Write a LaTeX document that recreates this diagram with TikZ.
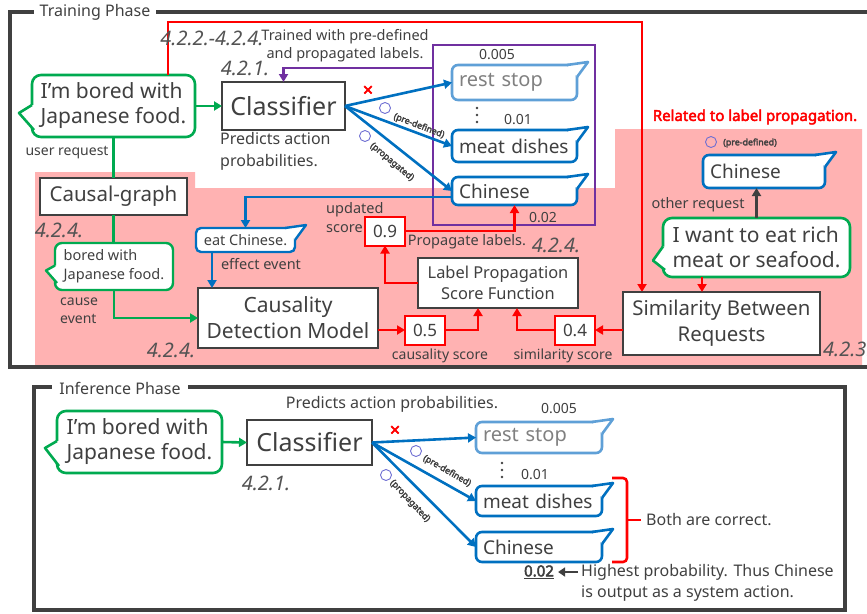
\documentclass[tikz,border=0pt]{standalone}
\usepackage{fontspec}
\setmainfont{Noto Sans}[AutoFakeBold=3]
\usetikzlibrary{arrows.meta}

\definecolor{txtgray}{RGB}{64,64,64}
\definecolor{reqgreen}{RGB}{0,170,80}
\definecolor{actblue}{RGB}{0,112,192}
\definecolor{paleblue}{RGB}{95,160,215}
\definecolor{lblpurple}{RGB}{112,48,160}
\definecolor{lpink}{RGB}{255,178,178}
\definecolor{okblue}{RGB}{110,110,210}

\newcommand{\fs}[2]{\fontsize{#1}{#2}\selectfont}

% speech tail, top right (action labels)
\newcommand{\tailne}[2]{%
  \filldraw[#2, fill=white, line join=round]
    ([xshift=-10pt]#1.north east) -- ++(21pt,3pt) -- ([yshift=-12pt]#1.north east);
}
% speech tail, left side (requests)
\newcommand{\tailw}[3]{%
  \fill[white] ([yshift=1pt]#1.west) -- ++(#3) -- ([xshift=2pt,yshift=7pt]#1.south west)
    -- ([xshift=2pt,yshift=1pt]#1.west) -- cycle;
  \draw[#2, line join=round] ([yshift=1pt]#1.west) -- ++(#3) -- ([xshift=2pt,yshift=7pt]#1.south west);
}

\tikzset{
  tip/.tip={Triangle[length=8pt,width=9pt]},
  frame/.style={draw=txtgray, line width=3.2pt},
  box/.style={draw=txtgray, line width=2.8pt, fill=white, text=txtgray, align=center, inner sep=0pt, outer sep=0pt},
  req/.style={draw=reqgreen, line width=2.6pt, fill=white, rounded corners=9pt, text=txtgray, align=left, inner sep=0pt, outer sep=0pt},
  act/.style={draw=actblue, line width=2.6pt, fill=white, rounded corners=6pt, text=txtgray, align=left, inner xsep=7pt, inner ysep=0pt, outer sep=0pt},
  score/.style={draw=red, line width=2pt, fill=white, text=txtgray, inner sep=0pt, outer sep=0pt, minimum width=40pt, minimum height=29pt, font=\fs{17}{20}},
  lbl/.style={text=txtgray, inner sep=0pt, align=left, font=\fs{14.5}{19}},
  num/.style={text=txtgray, inner sep=0pt, font=\fs{14}{17}},
  sec/.style={text=txtgray!90, inner sep=0pt, font=\fs{20}{24}\itshape},
  okcirc/.style={draw=okblue, circle, line width=0.9pt, minimum size=11pt, inner sep=0pt},
  tinylbl/.style={text=txtgray, inner sep=0pt, font=\fs{8.8}{10}\bfseries},
  nomark/.style={text=red, inner sep=0pt, font=\fs{18}{20}\bfseries},
  gline/.style={draw=reqgreen, line width=2.6pt},
  garr/.style={gline, -tip},
  barr/.style={draw=actblue, line width=2.6pt, -tip},
  rarr/.style={draw=red, line width=2.6pt, -tip},
  parr/.style={draw=lblpurple, line width=2.6pt, -tip},
  karr/.style={draw=txtgray, line width=2.6pt, -tip}
}

\begin{document}
\begin{tikzpicture}[x=1pt,y=-1pt]
\useasboundingbox (0,0) rectangle (867,613);

%training phase
\fill[lpink] (35,172) -- (195,172) -- (195,188) -- (615,188) -- (615,129) -- (862,129) -- (862,365) -- (35,365) -- cycle;
\draw[frame] (870,12) -- (10,12) -- (10,367) -- (870,367);
\node[lbl, font=\fs{16}{20}, fill=white, inner xsep=6pt] (trn) at (95,12) {Training Phase};

\coordinate (rt) at (642,22);
\node[req, minimum width=163pt, minimum height=62pt, font=\fs{21}{25}] (req1) at (113.5,106) {I’m bored with\\Japanese food.};
\draw[rarr] ([xshift=54.5pt]req1.north) |- (rt) -- (rt |- 0,292);
\tailw{req1}{draw=reqgreen, line width=2.6pt}{-13pt,-8pt}

\node[sec] (s1) at (212,38) {4.2.2.-4.2.4.};
\node[lbl, align=center, font=\fs{14.5}{18}] (trd) at (345,46) {Trained with pre-defined\\and propagated labels.};
\node[sec] (s2) at (245,68) {4.2.1.};

\node[box, minimum width=123pt, minimum height=48pt, font=\fs{25}{30}] (cls1) at (283.5,106) {Classifier};
\node[lbl, anchor=west, font=\fs{16}{22}] (pa1) at (220,151) {Predicts action\\probabilities.};
\node[lbl, font=\fs{14}{18}] (ur) at (67,153) {user request};

\node[draw=lblpurple, line width=1.8pt, minimum width=162pt, minimum height=180pt, inner sep=0pt, outer sep=0pt] (lbls) at (514,135) {};
\node[act, text width=111pt, minimum height=35pt, font=\fs{20}{24}, draw=paleblue, text=gray] (rs1) at (514.5,82.5) {rest stop};
\node[act, text width=111pt, minimum height=32pt, font=\fs{19}{22}] (md1) at (514.5,146) {meat dishes};
\node[act, text width=111pt, minimum height=28pt, font=\fs{19}{22}] (ch1) at (514.5,191) {Chinese};
\tailne{rs1}{draw=paleblue, line width=2.6pt}
\tailne{md1}{draw=actblue, line width=2.6pt}
\tailne{ch1}{draw=actblue, line width=2.6pt}
\node[num] (n1) at (497,55) {0.005};
\node[num] (n2) at (518,120) {0.01};
\node[num] (n3) at (543,218) {0.02};
\foreach \y in {108,115,122} \fill[txtgray] (477,\y) circle (1.4pt);

\coordinate (px) at ([yshift=-23pt]lbls.north west);
\draw[parr] (px) -| (cls1.north);
\draw[garr] (req1.east) -- (cls1.west);
\draw[barr] (cls1.east) -- (rs1.west);
\draw[barr] (cls1.east) -- (md1.west);
\draw[barr] (cls1.east) -- (ch1.west);
\node[nomark] (x1) at (368,91) {×};
\node[okcirc] (o1) at (385,108) {};
\node[okcirc] (o2) at (365,136) {};
\node[tinylbl, rotate=-21] (pd1) at (419,126) {(pre-defined)};
\node[tinylbl, rotate=-40] (pp1) at (392,162) {(propagated)};

\node[box, minimum width=147pt, minimum height=37pt, font=\fs{20.5}{24}] (cg) at (113.5,196.5) {Causal-graph};
\node[sec] (s3) at (59,230) {4.2.4.};
\node[req, rounded corners=7pt, line width=2.4pt, minimum width=118pt, minimum height=47pt, font=\fs{14.5}{19}] (cev) at (114,266.5) {bored with\\Japanese food.};
\tailw{cev}{draw=reqgreen, line width=2.4pt}{-9pt,-5pt}
\node[lbl, anchor=west, font=\fs{14}{18}] (ce) at (60,311) {cause\\event};
\draw[gline] (req1.south) -- (cg.north);
\draw[gline] (cg.south) -- (cg.south |- cev.north);

\node[act, line width=2.4pt, rounded corners=5pt, align=center, minimum width=99pt, minimum height=24pt, inner xsep=0pt, font=\fs{14.5}{18}] (eff) at (245.5,240) {eat Chinese.};
\tailne{eff}{draw=actblue, line width=2.4pt}
\node[lbl] (ee) at (261,264) {effect event};
\draw[barr] ([yshift=-6pt]ch1.west) -| (eff.north);

\node[box, minimum width=180pt, minimum height=60pt, font=\fs{21}{26}] (cdm) at (288,318) {Causality\\Detection Model};
\coordinate (effx) at ([xshift=-33.5pt]eff.south);
\draw[barr] (effx) -- (effx |- cdm.north);
\draw[garr] (cev.south) |- (cdm.west);
\node[sec] (s5) at (171,350) {4.2.4.};

\node[score] (s09) at (385,231) {0.9};
\node[score] (s05) at (425,330) {0.5};
\node[score] (s04) at (575,330) {0.4};
\node[lbl, anchor=west] (us) at (326,218) {updated\\score};
\node[lbl] (pl) at (467,242) {Propagate labels.};
\node[sec] (s4) at (556,245) {4.2.4.};
\node[box, minimum width=160pt, minimum height=50pt, font=\fs{16.4}{21}] (lpsf) at (498,283) {Label Propagation\\Score Function};
\node[lbl, font=\fs{14}{18}] (cs) at (440,356) {causality score};
\node[lbl, font=\fs{14}{18}] (ss) at (563,356) {similarity score};

\node[box, minimum width=197pt, minimum height=63pt, font=\fs{20.4}{26}] (sim) at (721.5,323.5) {Similarity Between\\Requests};
\node[sec, anchor=west] (s6) at (823,349) {4.2.3.};
\node[nomark, font=\fs{15}{18}\bfseries] (rel) at (755,117) {Related to label propagation.};
\node[okcirc] (o5) at (711,142) {};
\node[tinylbl] (pd3) at (750,143) {(pre-defined)};
\node[act, text width=108pt, minimum height=33pt, font=\fs{19}{22}] (oth) at (764,171.5) {Chinese};
\tailne{oth}{draw=actblue, line width=2.6pt}
\node[lbl] (or) at (698,205) {other request};
\node[req, minimum width=187pt, minimum height=59pt, font=\fs{21}{25}] (req2) at (756.5,247.5) {I want to eat rich\\meat or seafood.};
\tailw{req2}{draw=reqgreen, line width=2.6pt}{-10pt,-14pt}
\draw[karr] (req2.north) -- (req2.north |- oth.south);
\coordinate (r2x) at ([xshift=-54.5pt]req2.south);
\draw[rarr] (r2x) -- (r2x |- sim.north);

\draw[rarr] (cdm.east |- s05.west) -- (s05.west);
\draw[rarr] (s05.east) -| ([xshift=-20pt]lpsf.south);
\draw[rarr] (sim.west |- s04.east) -- (s04.east);
\draw[rarr] (s04.west) -| ([xshift=19pt]lpsf.south);
\draw[rarr] (lpsf.west) -| (s09.south);
\draw[rarr] (s09.east) -| (ch1.south);

%inference phase
\draw[frame] (34,387) rectangle (845,610);
\node[lbl, font=\fs{16}{20}, fill=white, inner xsep=7pt] (inf) at (120,388) {Inference Phase};
\node[lbl, font=\fs{16}{20}] (pa2) at (392,404) {Predicts action probabilities.};

\node[req, minimum width=165pt, minimum height=62pt, font=\fs{21}{25}] (req3) at (139.5,442) {I’m bored with\\Japanese food.};
\tailw{req3}{draw=reqgreen, line width=2.6pt}{-12pt,-7pt}
\node[box, minimum width=125pt, minimum height=45pt, font=\fs{25}{30}] (cls2) at (309.5,442.5) {Classifier};
\node[sec] (s7) at (266,483) {4.2.1.};

\node[act, text width=112pt, minimum height=31pt, font=\fs{20}{24}, draw=paleblue, text=gray] (rs2) at (539,437.5) {rest stop};
\node[act, text width=112pt, minimum height=30pt, font=\fs{19}{22}] (md2) at (539,501) {meat dishes};
\node[act, text width=112pt, minimum height=30pt, font=\fs{19}{22}] (ch2) at (539,547) {Chinese};
\tailne{rs2}{draw=paleblue, line width=2.6pt}
\tailne{md2}{draw=actblue, line width=2.6pt}
\tailne{ch2}{draw=actblue, line width=2.6pt}
\node[num] (n4) at (559,409) {0.005};
\node[num] (n5) at (535,475) {0.01};
\foreach \y in {463,470,477} \fill[txtgray] (502,\y) circle (1.4pt);

\draw[garr] (req3.east) -- (cls2.west);
\draw[barr] (cls2.east) -- (rs2.west);
\draw[barr] (cls2.east) -- (md2.west);
\draw[barr] (cls2.east) -- (ch2.west);
\node[nomark] (x2) at (395,431) {×};
\node[okcirc] (o3) at (416,451) {};
\node[okcirc] (o4) at (386,475) {};
\node[tinylbl, rotate=-30] (pd2) at (447,471) {(pre-defined)};
\node[tinylbl, rotate=-47] (pp2) at (410,501) {(propagated)};

% bracket
\node[lbl, font=\fs{16}{20}, anchor=west] (both) at (646,520) {Both are correct.};
\coordinate (bt) at ([xshift=10pt,yshift=8pt]md2.north east);
\coordinate (bb) at ([xshift=10pt]ch2.south east);
\coordinate (bm) at (bt |- both.west);
\draw[red, line width=2.6pt, rounded corners=4pt] (bt) -- ++(15pt,0) |- (bb);
\draw[red, line width=2.6pt] ([xshift=15pt]bm) -- ([xshift=-5pt]both.west);

\node[text=txtgray, inner sep=1pt, font=\fs{15}{18}\bfseries] (p02) at (539,572) {\underline{0.02}};
\node[lbl, anchor=west, font=\fs{16}{21}] (hp) at (581,583) {Highest probability. Thus Chinese\\is output as a system action.};
\draw[txtgray, line width=2.4pt, -{Triangle[length=7pt,width=9pt]}, shorten <=3pt, shorten >=3pt] (hp.west |- p02.east) -- (p02.east);
\end{tikzpicture}
\end{document}
